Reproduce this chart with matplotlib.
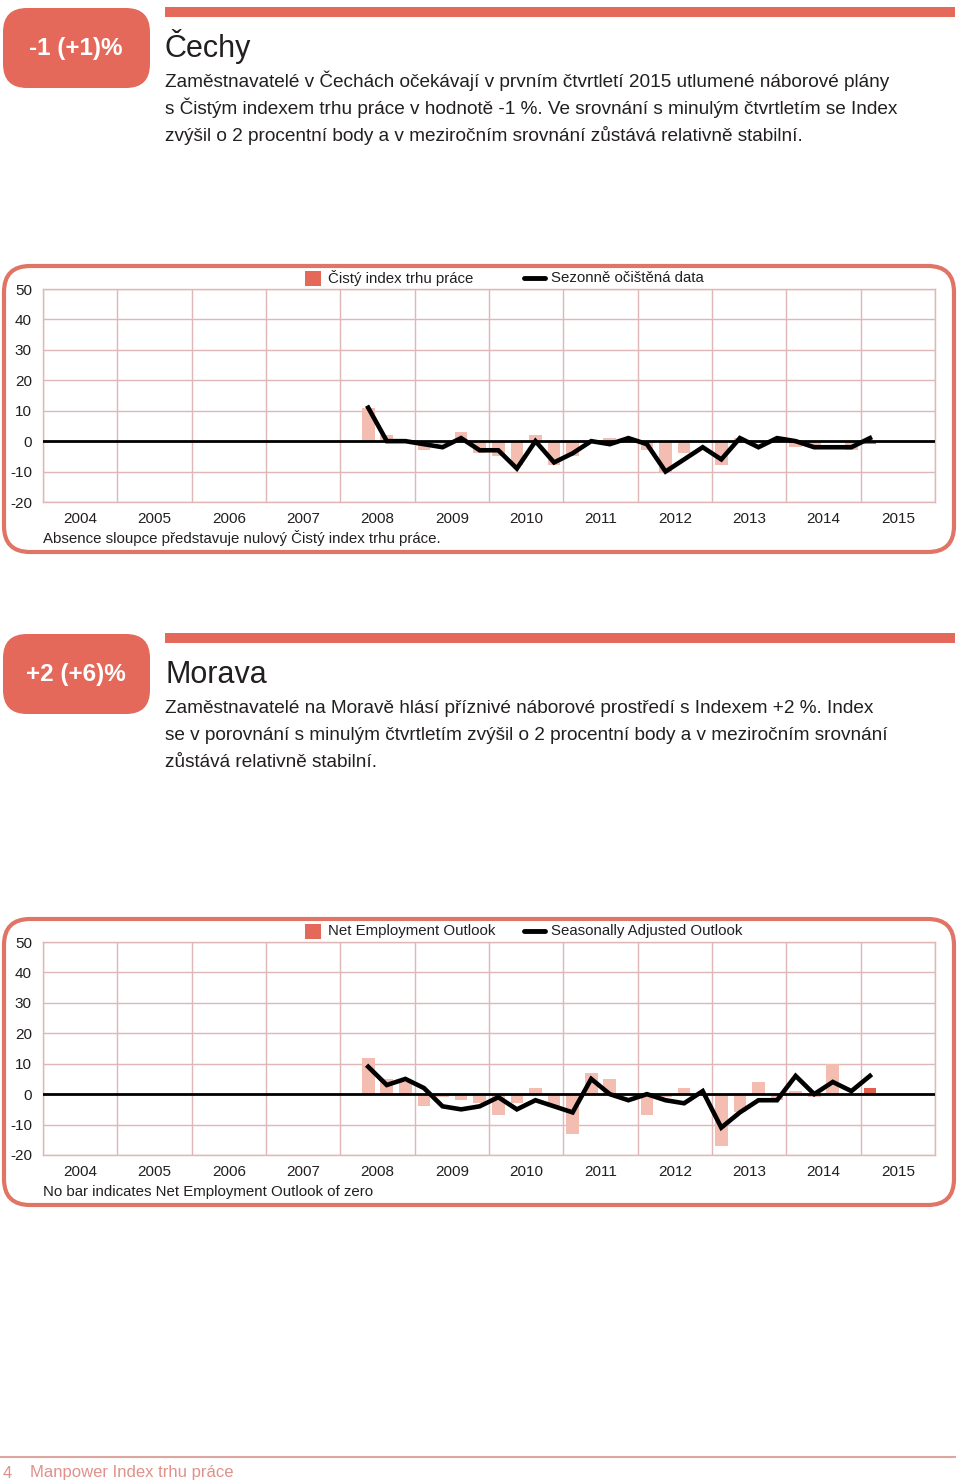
import matplotlib
matplotlib.use("Agg")
import matplotlib.pyplot as plt
from matplotlib.patches import FancyBboxPatch, Rectangle

plt.rcParams['font.family'] = ['Liberation Sans', 'DejaVu Sans']
plt.rcParams['axes.unicode_minus'] = False

W, H = 960, 1484

# quarters shown on the charts: 2008 Q2 .. 2015 Q1
years = list(range(2004, 2016))
quarters = [(y, q) for y in range(2008, 2016) for q in range(1, 5)][1:29]

# Čechy
cechy_neo = [11, 2, 0,
             -3, -1, 3, -4,
             -5, -8, 2, -8,
             -5, 0, 1, 0,
             -3, -10, -4, 0,
             -8, 1, 0, 0,
             -2, -2, 0, -3,
             -1]
cechy_sa = [11, 0, 0,
            -1, -2, 1, -3,
            -3, -9, 0, -7,
            -4, 0, -1, 1,
            -1, -10, -6, -2,
            -6, 1, -2, 1,
            0, -2, -2, -2,
            1]

# Morava
morava_neo = [12, 5, 4,
              -4, -1, -2, -3,
              -7, -3, 2, -4,
              -13, 7, 5, 0,
              -7, -1, 2, 0,
              -17, -6, 4, -2,
              1, -1, 10, 0,
              2]
morava_sa = [9, 3, 5,
             2, -4, -5, -4,
             -1, -5, -2, -4,
             -6, 5, 0, -2,
             0, -2, -3, 1,
             -11, -6, -2, -2,
             6, 0, 4, 1,
             6]

RED = '#e4695a'
BAR = '#f4bdb1'
BAR_LAST = '#e0604d'
GRID = '#e0b7b7'
TEXT = '#231f20'

fig = plt.figure(figsize=(W / 100, H / 100), dpi=100)
bg = fig.add_axes([0, 0, 1, 1])
bg.set_xlim(0, W)
bg.set_ylim(H, 0)
bg.axis('off')


def header(top, badge, title, lines):
    bg.add_patch(FancyBboxPatch((3, top + 1), 147, 80, boxstyle="round,pad=0,rounding_size=24",
                                fc=RED, ec='none'))
    bg.text(76, top + 41, badge, color='white', fontsize=17.5, fontweight='bold',
            ha='center', va='center')
    bg.add_patch(Rectangle((165, top), 790, 10, fc=RED, ec='none'))
    bg.text(165, top + 50, title, color=TEXT, fontsize=22, va='baseline')
    for i, line in enumerate(lines):
        bg.text(165, top + 80 + 27 * i, line, color=TEXT, fontsize=13.7, va='baseline')


def chart(top, neo, sa, labels, note):
    # rounded frame
    bg.add_patch(FancyBboxPatch((4, top - 23), 950, 286, boxstyle="round,pad=0,rounding_size=26",
                                fc='white', ec='#e07565', lw=3))
    # legend
    bg.add_patch(Rectangle((305, top - 18), 16, 15, fc=RED, ec='none'))
    bg.text(328, top - 11, labels[0], fontsize=10.8, color=TEXT, va='center')
    bg.plot([524, 545], [top - 11, top - 11], color='black', lw=3.5, solid_capstyle='round')
    bg.text(551, top - 11, labels[1], fontsize=10.8, color=TEXT, va='center')
    bg.text(43, top + 254, note, fontsize=10.8, color=TEXT, va='baseline')

    ax = fig.add_axes([43 / W, 1 - (top + 213) / H, 892 / W, 213 / H])
    ax.set_facecolor('none')
    ax.set_xlim(0, 48)
    ax.set_ylim(-20, 50)
    ax.set_yticks(range(-20, 51, 10))
    ax.set_xticks([4 * i + 2 for i in range(len(years))])
    ax.set_xticklabels([str(y) for y in years])
    ax.set_xticks(range(0, 49, 4), minor=True)
    ax.tick_params(which='both', length=0, labelsize=11, labelcolor=TEXT)
    ax.tick_params(axis='y', pad=8)
    ax.tick_params(axis='x', pad=7)
    ax.grid(axis='y', color=GRID, lw=1)
    ax.grid(axis='x', which='minor', color=GRID, lw=1)
    for s in ax.spines.values():
        s.set_color(GRID)
        s.set_linewidth(1)
    ax.set_axisbelow(True)

    x = [(y - 2004) * 4 + (q - 1) + 0.5 for y, q in quarters]
    colors = [BAR] * (len(neo) - 1) + [BAR_LAST]
    ax.bar(x, neo, width=0.68, color=colors, zorder=2)
    ax.axhline(0, color='black', lw=2, zorder=3)
    ax.plot(x, sa, color='black', lw=3.3, zorder=4, solid_joinstyle='miter')


header(7, '-1 (+1)%', 'Čechy', [
    'Zaměstnavatelé v Čechách očekávají v prvním čtvrtletí 2015 utlumené náborové plány',
    's Čistým indexem trhu práce v hodnotě -1 %. Ve srovnání s minulým čtvrtletím se Index',
    'zvýšil o 2 procentní body a v meziročním srovnání zůstává relativně stabilní.',
])
chart(289, cechy_neo, cechy_sa, ['Čistý index trhu práce', 'Sezonně očištěná data'],
      'Absence sloupce představuje nulový Čistý index trhu práce.')

header(633, '+2 (+6)%', 'Morava', [
    'Zaměstnavatelé na Moravě hlásí příznivé náborové prostředí s Indexem +2 %. Index',
    'se v porovnání s minulým čtvrtletím zvýšil o 2 procentní body a v meziročním srovnání',
    'zůstává relativně stabilní.',
])
chart(942, morava_neo, morava_sa, ['Net Employment Outlook', 'Seasonally Adjusted Outlook'],
      'No bar indicates Net Employment Outlook of zero')

# footer
bg.plot([0, 955], [1457, 1457], color='#dca7a1', lw=1.5)
bg.text(3, 1473, '4', fontsize=12, color='#e0918a', va='center')
bg.text(30, 1473, 'Manpower Index trhu práce', fontsize=12, color='#e0918a', va='center')

fig.savefig('out.png', dpi=100)
